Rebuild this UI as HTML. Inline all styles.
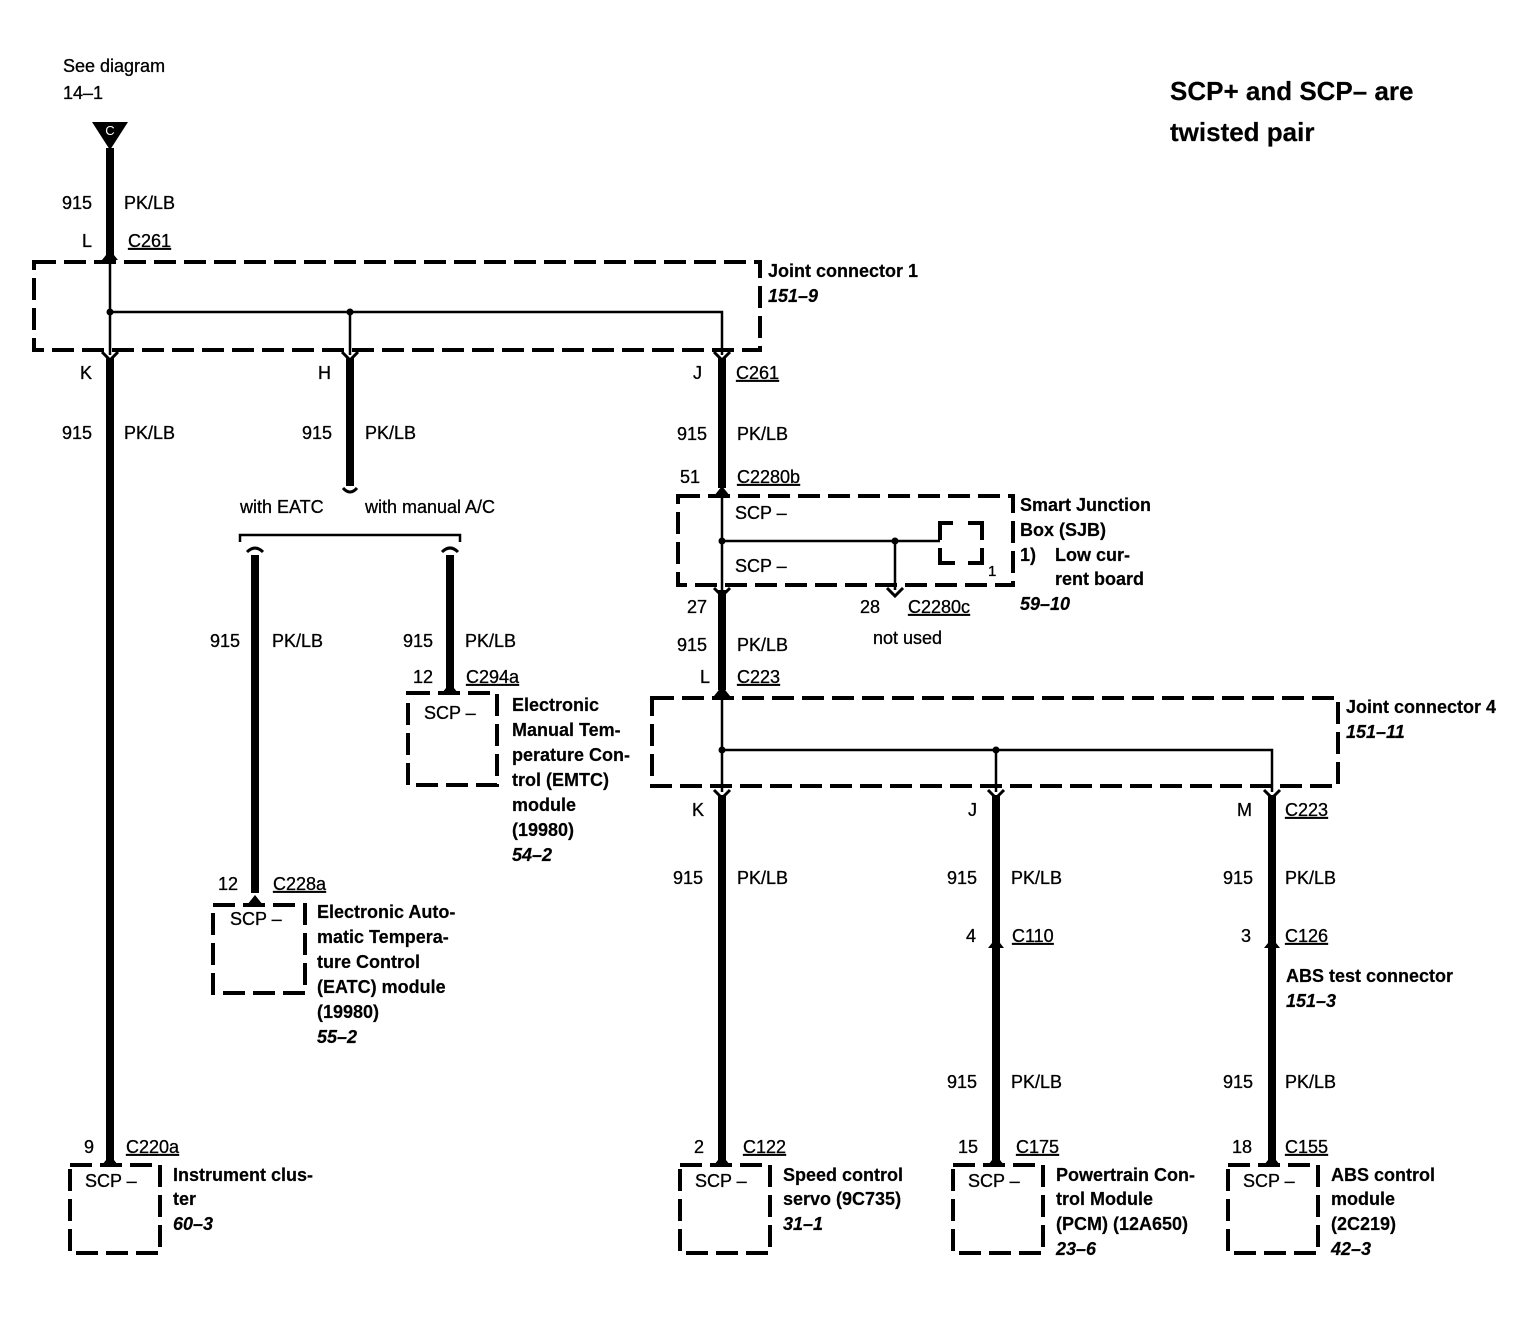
<!DOCTYPE html>
<html><head><meta charset="utf-8"><style>
html,body{margin:0;padding:0;background:#fff}
svg{display:block}
text{font-family:"Liberation Sans",Arial,sans-serif;font-size:18px;fill:#000;stroke:#000;stroke-width:0.3}
.b{font-weight:bold;stroke-width:0.2}
.i{font-weight:bold;font-style:italic;stroke-width:0.2}
.u{text-decoration:underline}
</style></head><body>
<svg width="1530" height="1328" viewBox="0 0 1530 1328" xmlns="http://www.w3.org/2000/svg">
<g fill="none" stroke="#000">
<g stroke-width="4" stroke-dasharray="22,8">
<rect x="34" y="262" width="726" height="88"/>
<rect x="678" y="496" width="335" height="89"/>
<rect x="652" y="698" width="686" height="88"/>
<rect x="408" y="693" width="89" height="92"/>
<rect x="213" y="905" width="92" height="88"/>
<rect x="70" y="1165" width="90" height="88"/>
<rect x="680" y="1165" width="90" height="88"/>
<rect x="953" y="1165" width="90" height="88"/>
<rect x="1228" y="1165" width="90" height="88"/>
</g>
<g stroke-width="2.5">
<path d="M110 255V355M110 312H722V355M350 312V355"/>
<path d="M722 490V592M722 541H940M895 541V590"/>
<path d="M722 690V792M722 750H1272V792M996 750V792"/>
<path d="M240 542V535H460V542"/>
</g>
<path stroke-width="4" d="M953 523H940V540M940 548V563H955M968 523H982V540M982 548V563H968"/>
<g stroke-width="8">
<path d="M110 148V255M110 358V1160M350 358V486M722 358V488M722 590V690"/>
<path d="M255 555V893M450 555V688"/>
<path d="M722 795V1160M996 795V1160M1272 795V1160"/>
</g>
</g>
<g fill="#000">
<polygon points="92,122 128,122 110,150"/>
<polygon points="102,260 110,250 118,260"/>
<polygon points="714,496 722,486 730,496"/>
<polygon points="714,696 722,686 730,696"/>
<polygon points="102,1165 110,1155 118,1165"/>
<polygon points="714,1165 722,1155 730,1165"/>
<polygon points="988,1165 996,1155 1004,1165"/>
<polygon points="1264,1165 1272,1155 1280,1165"/>
<polygon points="988,948 996,938 1004,948"/>
<polygon points="1264,948 1272,938 1280,948"/>
<polygon points="442,693 450,683 458,693"/>
<polygon points="247,905 255,895 263,905"/>
<circle cx="110" cy="312" r="3.5"/><circle cx="350" cy="312" r="3.5"/>
<circle cx="722" cy="541" r="3.5"/><circle cx="895" cy="541" r="3.5"/>
<circle cx="722" cy="750" r="3.5"/><circle cx="996" cy="750" r="3.5"/>
</g>
<g fill="none" stroke="#000" stroke-width="3">
<path d="M102 352L110 360L118 352M342 352L350 360L358 352M714 352L722 360L730 352"/>
<path d="M714 588L722 596L730 588M887 588L895 596L903 588"/>
<path d="M714 790L722 798L730 790M988 790L996 798L1004 790M1264 790L1272 798L1280 790"/>
<path d="M343 488Q350 496 357 488M247 552Q255 544 263 552M442 552Q450 544 458 552"/>
</g>
<text x="110" y="135" style="font-size:13px;fill:#fff;stroke:none" text-anchor="middle">C</text>
<text x="63" y="72">See diagram</text>
<text x="63" y="99">14–1</text>
<text x="1170" y="100" class="b" style="font-size:26px">SCP+ and SCP– are</text>
<text x="1170" y="141" class="b" style="font-size:26px">twisted pair</text>

<text x="62" y="209">915</text><text x="124" y="209">PK/LB</text>
<text x="82" y="247">L</text><text x="128" y="247" class="u">C261</text>
<text x="768" y="277" class="b">Joint connector 1</text>
<text x="768" y="302" class="i">151–9</text>

<text x="80" y="379">K</text><text x="318" y="379">H</text>
<text x="693" y="379">J</text><text x="736" y="379" class="u">C261</text>
<text x="62" y="439">915</text><text x="124" y="439">PK/LB</text>
<text x="302" y="439">915</text><text x="365" y="439">PK/LB</text>
<text x="677" y="440">915</text><text x="737" y="440">PK/LB</text>
<text x="680" y="483">51</text><text x="737" y="483" class="u">C2280b</text>
<text x="240" y="513">with EATC</text><text x="365" y="513">with manual A/C</text>

<text x="735" y="519">SCP –</text><text x="735" y="572">SCP –</text>
<text x="988" y="576" style="font-size:15px">1</text>
<text x="1020" y="511" class="b">Smart Junction</text>
<text x="1020" y="536" class="b">Box (SJB)</text>
<text x="1020" y="561" class="b">1)</text><text x="1055" y="561" class="b">Low cur-</text>
<text x="1055" y="585" class="b">rent board</text>
<text x="1020" y="610" class="i">59–10</text>
<text x="687" y="613">27</text>
<text x="860" y="613">28</text><text x="908" y="613" class="u">C2280c</text>
<text x="873" y="644">not used</text>
<text x="677" y="651">915</text><text x="737" y="651">PK/LB</text>
<text x="700" y="683">L</text><text x="737" y="683" class="u">C223</text>
<text x="1346" y="713" class="b">Joint connector 4</text>
<text x="1346" y="738" class="i">151–11</text>

<text x="210" y="647">915</text><text x="272" y="647">PK/LB</text>
<text x="403" y="647">915</text><text x="465" y="647">PK/LB</text>
<text x="413" y="683">12</text><text x="466" y="683" class="u">C294a</text>
<text x="424" y="719">SCP –</text>
<text x="512" y="711" class="b">Electronic</text>
<text x="512" y="736" class="b">Manual Tem-</text>
<text x="512" y="761" class="b">perature Con-</text>
<text x="512" y="786" class="b">trol (EMTC)</text>
<text x="512" y="811" class="b">module</text>
<text x="512" y="836" class="b">(19980)</text>
<text x="512" y="861" class="i">54–2</text>

<text x="218" y="890">12</text><text x="273" y="890" class="u">C228a</text>
<text x="230" y="925">SCP –</text>
<text x="317" y="918" class="b">Electronic Auto-</text>
<text x="317" y="943" class="b">matic Tempera-</text>
<text x="317" y="968" class="b">ture Control</text>
<text x="317" y="993" class="b">(EATC) module</text>
<text x="317" y="1018" class="b">(19980)</text>
<text x="317" y="1043" class="i">55–2</text>

<text x="692" y="816">K</text><text x="968" y="816">J</text><text x="1237" y="816">M</text>
<text x="1285" y="816" class="u">C223</text>
<text x="673" y="884">915</text><text x="737" y="884">PK/LB</text>
<text x="947" y="884">915</text><text x="1011" y="884">PK/LB</text>
<text x="1223" y="884">915</text><text x="1285" y="884">PK/LB</text>
<text x="966" y="942">4</text><text x="1012" y="942" class="u">C110</text>
<text x="1241" y="942">3</text><text x="1285" y="942" class="u">C126</text>
<text x="1286" y="982" class="b">ABS test connector</text>
<text x="1286" y="1007" class="i">151–3</text>
<text x="947" y="1088">915</text><text x="1011" y="1088">PK/LB</text>
<text x="1223" y="1088">915</text><text x="1285" y="1088">PK/LB</text>

<text x="84" y="1153">9</text><text x="126" y="1153" class="u">C220a</text>
<text x="694" y="1153">2</text><text x="743" y="1153" class="u">C122</text>
<text x="958" y="1153">15</text><text x="1016" y="1153" class="u">C175</text>
<text x="1232" y="1153">18</text><text x="1285" y="1153" class="u">C155</text>
<text x="85" y="1187">SCP –</text><text x="695" y="1187">SCP –</text>
<text x="968" y="1187">SCP –</text><text x="1243" y="1187">SCP –</text>
<text x="173" y="1181" class="b">Instrument clus-</text>
<text x="173" y="1205" class="b">ter</text>
<text x="173" y="1230" class="i">60–3</text>
<text x="783" y="1181" class="b">Speed control</text>
<text x="783" y="1205" class="b">servo (9C735)</text>
<text x="783" y="1230" class="i">31–1</text>
<text x="1056" y="1181" class="b">Powertrain Con-</text>
<text x="1056" y="1205" class="b">trol Module</text>
<text x="1056" y="1230" class="b">(PCM) (12A650)</text>
<text x="1056" y="1255" class="i">23–6</text>
<text x="1331" y="1181" class="b">ABS control</text>
<text x="1331" y="1205" class="b">module</text>
<text x="1331" y="1230" class="b">(2C219)</text>
<text x="1331" y="1255" class="i">42–3</text>
</svg>
</body></html>
